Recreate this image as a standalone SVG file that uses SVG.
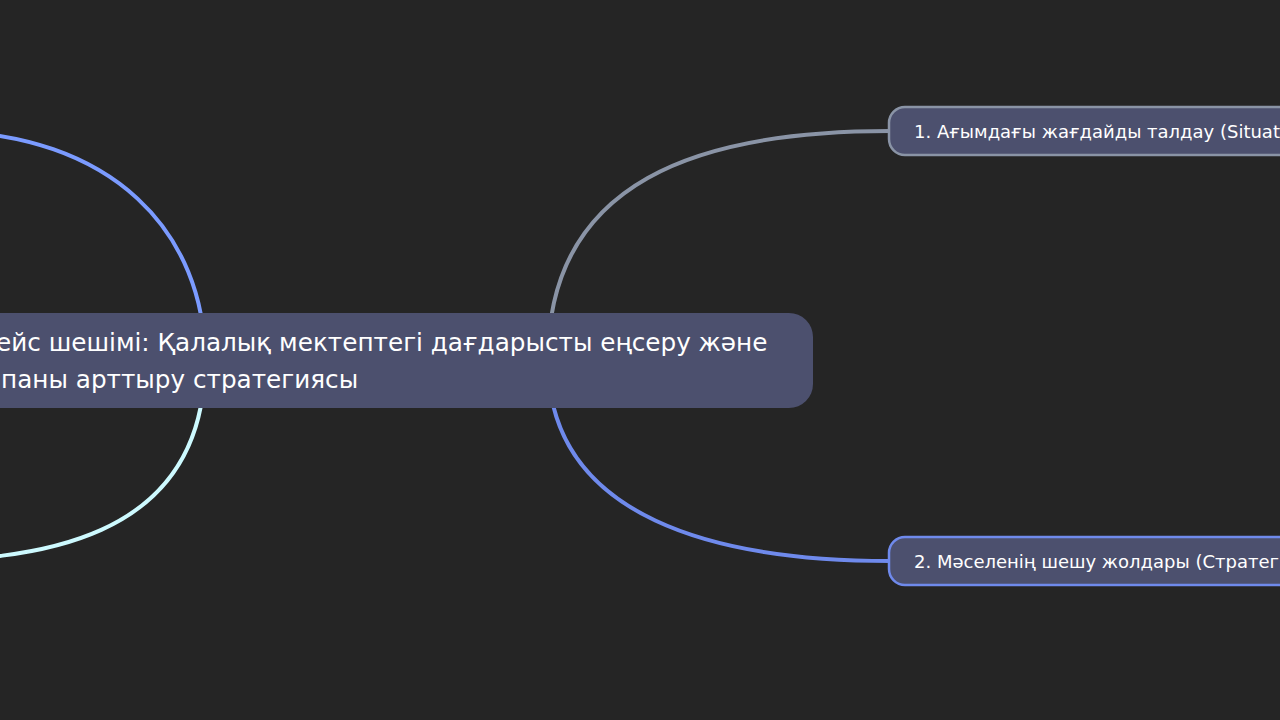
<svg xmlns="http://www.w3.org/2000/svg" width="1280" height="720" viewBox="0 0 1280 720">
  <style>
    .bg { fill: #252525; }
    .link { fill: none; stroke-width: 4; stroke-linecap: round; }
    .node { fill: #4c506e; }
    .child { fill: #4c506e; stroke-width: 2.5; }
    .t-root { font-family: "DejaVu Sans", sans-serif; font-size: 24.7px; fill: #ffffff; }
    .t-child { font-family: "DejaVu Sans", sans-serif; font-size: 18px; fill: #ffffff; }
  </style>
  <rect class="bg" x="0" y="0" width="1280" height="720"/>
  <g id="connectors">
    <path class="link" stroke="#7b9bff" d="M205,360 C205,235 115,131 -65,131"/>
    <path class="link" stroke="#cdfaff" d="M205,360 C205,545 30,561 -100,561"/>
    <path class="link" stroke="#8a94a6" d="M548,360 C548,180 700,131 890,131"/>
    <path class="link" stroke="#6f8aec" d="M548,360 C548,520 720,561 890,561"/>
  </g>
  <g id="root">
    <rect class="node" x="-60" y="313" width="873" height="95" rx="24" ry="24"/>
    <text class="t-root" x="-4" y="351">ейс шешімі: Қалалық мектептегі дағдарысты еңсеру және</text>
    <text class="t-root" x="1" y="388">паны арттыру стратегиясы</text>
  </g>
  <g id="node-1">
    <rect class="child" stroke="#8a94a6" x="889" y="107" width="460" height="48" rx="16" ry="16"/>
    <text class="t-child" x="914" y="138">1. Ағымдағы жағдайды талдау (Situation analysis)</text>
  </g>
  <g id="node-2">
    <rect class="child" stroke="#6f8aec" x="889" y="537" width="460" height="48" rx="16" ry="16"/>
    <text class="t-child" x="914" y="568">2. Мәселенің шешу жолдары (Стратегиялар)</text>
  </g>
</svg>
